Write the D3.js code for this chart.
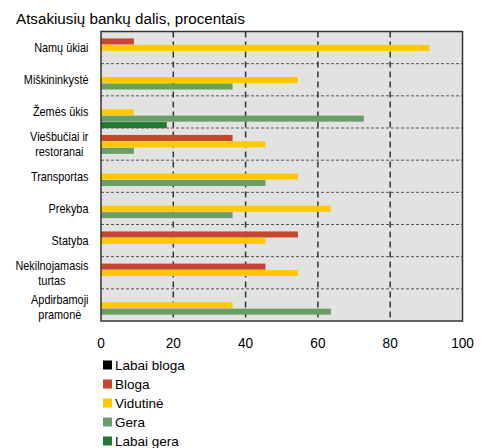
<!DOCTYPE html>
<html><head><meta charset="utf-8">
<script src="https://cdn.jsdelivr.net/npm/d3@7"></script>
<style>body{margin:0;background:#fff}svg{display:block}text{font-family:"Liberation Sans",Arial,sans-serif;fill:#000}</style>
</head><body>
<script>
const categories = [["Namų ūkiai"],["Miškininkystė"],["Žemės ūkis"],["Viešbučiai ir","restoranai"],["Transportas"],["Prekyba"],["Statyba"],["Nekilnojamasis","turtas"],["Apdirbamoji","pramonė"]];
const seriesNames = ["Labai bloga","Bloga","Vidutinė","Gera","Labai gera"];
const seriesColors = ["#000000","#C8472A","#FFC800","#6A9D68","#22782E"];
const labaiBloga = [0,0,0,0,0,0,0,0,0];
const bloga      = [9.1,0,0,36.4,0,0,54.5,45.5,0];
const vidutine   = [90.9,54.5,9.1,45.5,54.5,63.6,45.5,54.5,36.4];
const gera       = [0,36.4,72.7,9.1,45.5,36.4,0,0,63.6];
const labaiGera  = [0,0,18.2,0,0,0,0,0,0];
const xTicks = [0,20,40,60,80,100];
const series = [labaiBloga,bloga,vidutine,gera,labaiGera];

const W=482,H=448;
const L=101,R=462.5,T=31.5,B=321;
const svg=d3.select("body").append("svg").attr("width",W).attr("height",H);

svg.append("text").attr("x",16).attr("y",24).style("font-size","15.2px").text("Atsakiusių bankų dalis, procentais");

const x=d3.scaleLinear().domain([0,100]).range([L,R]);
const y=d3.scaleBand().domain(d3.range(categories.length)).range([T,B]).padding(0);
const ys=d3.scaleBand().domain(d3.range(seriesNames.length)).range([0.5,y.bandwidth()+0.5]).padding(0);

svg.append("rect").attr("x",L).attr("y",T).attr("width",R-L).attr("height",B-T).attr("fill","#E2E3E0");

// horizontal separators
svg.append("g").selectAll("line").data(d3.range(1,categories.length)).join("line")
 .attr("x1",L).attr("x2",R).attr("y1",d=>y(d)).attr("y2",d=>y(d))
 .attr("stroke","#555").attr("stroke-width",1).attr("stroke-dasharray","3,2");

// vertical grid
svg.append("g").selectAll("line").data(xTicks.slice(1,-1)).join("line")
 .attr("x1",d=>x(d)).attr("x2",d=>x(d)).attr("y1",T).attr("y2",B)
 .attr("stroke","#333").attr("stroke-width",1.5).attr("stroke-dasharray","6,4");

// bars
series.forEach((vals,si)=>{
  svg.append("g").selectAll("rect").data(vals.map((v,i)=>({v,i}))).join("rect")
   .filter(d=>d.v>0)
   .attr("x",x(0)).attr("y",d=>y(d.i)+ys(si)).attr("width",d=>x(d.v)-x(0))
   .attr("height",ys.bandwidth()-0.4).attr("fill",seriesColors[si]);
});

// border
svg.append("rect").attr("x",L).attr("y",T).attr("width",R-L).attr("height",B-T)
 .attr("fill","none").attr("stroke","#333").attr("stroke-width",1.5);

// category labels
const labelRight=88.5;
categories.forEach((lines,i)=>{
  const cy=y(i)+y.bandwidth()/2;
  const g=svg.append("g");
  const lh=15;
  const t=g.append("text").style("font-size","12.5px").attr("text-anchor","middle");
  lines.forEach((ln,k)=>{
    t.append("tspan").attr("x",0).attr("y",(k-(lines.length-1)/2)*lh+4.5).text(ln);
  });
  const bb=t.node().getBBox();
  const sx=0.87;
  const w=bb.width*sx;
  g.attr("transform",`translate(${labelRight-w/2},${cy + (lines.length>1 && i===categories.length-1?2:0)}) scale(${sx},1)`);
});

// x tick labels
svg.append("g").selectAll("g").data(xTicks).join("g")
 .attr("transform",d=>`translate(${x(d)},348) scale(0.88,1)`)
 .append("text").attr("text-anchor","middle").style("font-size","15.5px").text(d=>d);

// legend
const lg=svg.append("g").selectAll("g").data(seriesNames).join("g")
 .attr("transform",(d,i)=>`translate(103,${365+i*19})`);
lg.append("rect").attr("x",0).attr("y",-4.5).attr("width",9).attr("height",9).attr("fill",(d,i)=>seriesColors[i]);
lg.append("text").attr("x",12).attr("y",5).style("font-size","13.5px").text(d=>d);
</script>
</body></html>
